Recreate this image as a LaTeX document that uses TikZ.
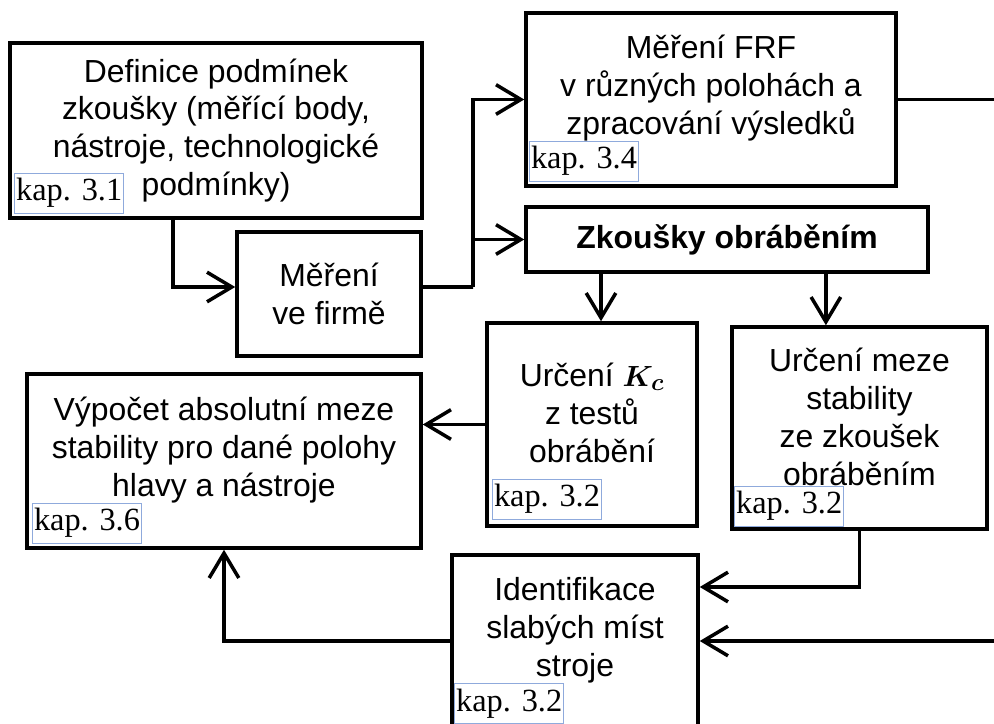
\documentclass[tikz,border=0pt]{standalone}
\usepackage{amsmath,bm}
\usepackage{fontspec}
\setmainfont{Liberation Sans}
\newfontfamily\kapfont{Liberation Serif}
\usepackage{tikz}
\usetikzlibrary{arrows.meta, positioning, calc}

\definecolor{kapblue}{RGB}{143,170,220}
\tikzset{
  box/.style={draw, line width=2.5pt, align=center, font=\fontsize{22.7}{27}\selectfont},
  txt/.style={align=center, font=\fontsize{22.7}{27}\selectfont},
  kap/.style={draw=kapblue, line width=0.8pt, anchor=south west, inner sep=1pt,
    minimum width=2.675cm, minimum height=1cm, font=\kapfont\fontsize{23}{24}\selectfont},
  arr/.style={line width=2.5pt, -{Straight Barb[length=0.62cm, width=0.74cm]}},
  line/.style={line width=2.5pt}
}

\begin{document}
\begin{tikzpicture}
\useasboundingbox (0,0) rectangle (24.85,-18.1);
\clip (0,0) rectangle (24.85,-18.1);
% boxes
\node[box, minimum width=10.3cm, minimum height=4.375cm] (defn) at (5.4,-3.2625) {Definice podmínek\\zkoušky (měřící body,\\nástroje, technologické\\podmínky)};
\node[kap] (defn-k) at ([shift={(0.15,0.15)}]defn.south west) {kap. 3.1};
\node[box, minimum width=4.6cm, minimum height=3.1cm] (mer) at (8.225,-7.35) {Měření\\ve firmě};
\node[box, minimum width=9.25cm, minimum height=4.325cm] (frf) at (17.775,-2.4875) {};
\node[txt] (frf-t) at ([yshift=0.28cm]frf.center) {Měření FRF\\v různých polohách a\\zpracování výsledků};
\node[kap] (frf-k) at ([shift={(0.12,0.15)}]frf.south west) {kap. 3.4};
\node[box, minimum width=10.05cm, minimum height=1.625cm, font=\fontsize{22.7}{27}\selectfont\bfseries] (zk) at (18.175,-5.9875) {Zkoušky obráběním};
\node[box, minimum width=5.25cm, minimum height=5.075cm] (kc) at (14.8,-10.6125) {};
\node[txt] (kc-t) at ([yshift=0.3cm]kc.center) {Určení $\bm{K_c}$\\z testů\\obrábění};
\node[kap] (kc-k) at ([shift={(0.17,0.2)}]kc.south west) {kap. 3.2};
\node[box, minimum width=6.375cm, minimum height=5.05cm] (mez) at (21.4875,-10.7) {};
\node[txt] (mez-t) at ([yshift=0.28cm]mez.center) {Určení meze\\stability\\ze zkoušek\\obráběním};
\node[kap] (mez-k) at ([shift={(0.1,0.1)}]mez.south west) {kap. 3.2};
\node[box, minimum width=9.85cm, minimum height=4.35cm] (vyp) at (5.6,-11.525) {};
\node[txt] (vyp-t) at ([yshift=0.28cm]vyp.center) {Výpočet absolutní meze\\stability pro dané polohy\\hlavy a nástroje};
\node[kap] (vyp-k) at ([shift={(0.17,0.15)}]vyp.south west) {kap. 3.6};
\node[box, minimum width=6.15cm, minimum height=4.3cm] (ident) at (14.375,-16.025) {};
\node[txt] (ident-t) at ([yshift=0.28cm]ident.center) {Identifikace\\slabých míst\\stroje};
\node[kap] (ident-k) at ([shift={(0.1,0.12)}]ident.south west) {kap. 3.2};
% connectors
\coordinate (split) at (11.825,-7.175);
\coordinate (out1) at (25.2,-2.4875);
\coordinate (in2) at (25.2,-16.025);
\draw[arr] ([xshift=-1.075cm]defn.south) |- ([yshift=0.175cm]mer.west);
\draw[line] ([yshift=0.175cm]mer.east) -- (split);
\draw[arr] (split) |- (frf.west);
\draw[arr] (split) |- (zk.west);
\draw[line] (frf.east) -- (out1);
\draw[arr] ([xshift=0.225cm]kc.north |- zk.south) -- ([xshift=0.225cm]kc.north);
\draw[arr] ([xshift=-0.84cm]mez.north |- zk.south) -- ([xshift=-0.84cm]mez.north);
\draw[arr] (kc.west) -- (kc.west -| vyp.east);
\draw[arr] (mez.south) |- ([yshift=1.35cm]ident.east);
\draw[arr] (in2) -- (ident.east);
\draw[arr] (ident.west) -| (vyp.south);
\end{tikzpicture}
\end{document}
